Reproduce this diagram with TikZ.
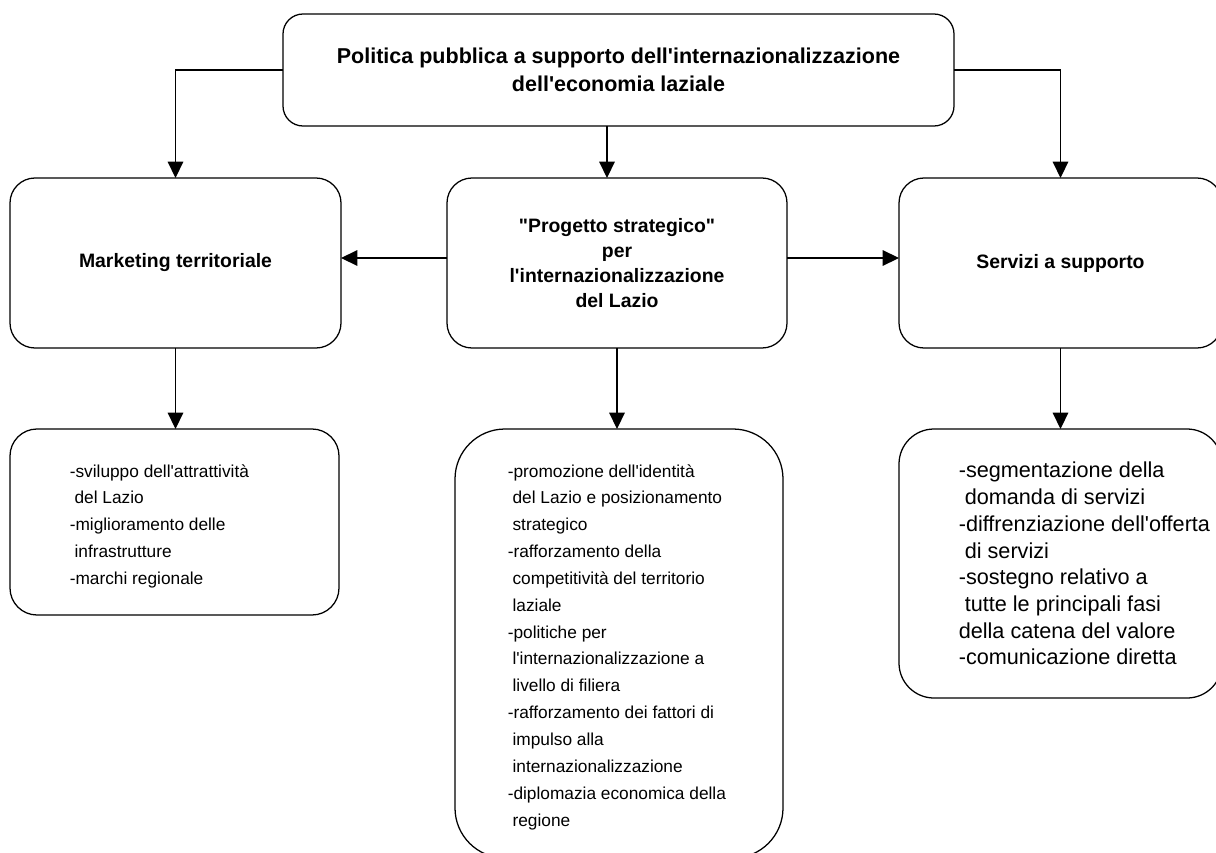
\documentclass[tikz,border=0pt]{standalone}
\usepackage{fontspec}
\setmainfont{Liberation Sans}[Ligatures=TeXOff]
\usetikzlibrary{arrows.meta}
\usetikzlibrary{positioning}
\newcommand{\indsp}{\hspace*{0.278em}}

\begin{document}
\begin{tikzpicture}[
  box/.style={draw,line width=0.9pt,outer sep=0pt,inner sep=0pt,align=center,font=\bfseries\fontsize{13.8}{17.8}\selectfont},
  listtext/.style={anchor=north west,inner sep=0pt,align=left},
  arr/.style={line width=0.9pt,-{Triangle[length=0.41cm,width=0.39cm]}}]
\useasboundingbox (0,0) rectangle (30.4,-21.3);
\clip (0,0) rectangle (30.4,-21.3);

\node[box,rounded corners=0.5cm,minimum width=16.775cm,minimum height=2.8cm,font=\bfseries\fontsize{15.3}{19.5}\selectfont] (top) at (15.4625,-1.75) {Politica pubblica a supporto dell'internazionalizzazione\\dell'economia laziale};

\node[box,rounded corners=0.625cm,minimum width=8.275cm,minimum height=4.25cm] (mkt) at (4.3875,-6.575) {Marketing territoriale};
\node[box,rounded corners=0.625cm,minimum width=8.5cm,minimum height=4.25cm] (prog) at (15.425,-6.575) {"Progetto strategico"\\per\\l'internazionalizzazione\\del Lazio};
\node[box,rounded corners=0.625cm,minimum width=8.075cm,minimum height=4.25cm] (serv) at (26.5125,-6.575) {Servizi a supporto};

\node[box,rounded corners=0.675cm,minimum width=8.225cm,minimum height=4.65cm] (bl) at (4.3625,-13.05) {};
\node[box,rounded corners=1.25cm,minimum width=8.2cm,minimum height=10.725cm] (bm) at (15.475,-16.0875) {};
\node[box,rounded corners=0.875cm,minimum width=8.075cm,minimum height=6.725cm] (br) at (26.5125,-14.0875) {};

\node[listtext,font=\fontsize{12.3}{19.1}\selectfont] (bltext) at (1.7375,-11.6) {-sviluppo dell'attrattività\\\indsp del Lazio\\-miglioramento delle\\\indsp infrastrutture\\-marchi regionale};
\node[listtext,font=\fontsize{12.3}{19.1}\selectfont] (bmtext) at (12.6875,-11.6) {-promozione dell'identità\\\indsp del Lazio e posizionamento\\\indsp strategico\\-rafforzamento della\\\indsp competitività del territorio\\\indsp laziale\\-politiche per\\\indsp l'internazionalizzazione a\\\indsp livello di filiera\\-rafforzamento dei fattori di\\\indsp impulso alla\\\indsp internazionalizzazione\\-diplomazia economica della\\\indsp regione};
\node[listtext,font=\fontsize{15.4}{19}\selectfont] (brtext) at (23.9625,-11.55) {-segmentazione della\\\indsp domanda di servizi\\-diffrenziazione dell'offerta\\\indsp di servizi\\-sostegno relativo a\\\indsp tutte le principali fasi\\della catena del valore\\-comunicazione diretta};

\draw[arr] (top.west) -| (mkt.north);
\draw[arr] (top.east) -| (serv.north);
\draw[arr] ([xshift=-0.25cm]prog.north |- top.south) -- ([xshift=-0.25cm]prog.north);
\draw[arr] ([yshift=0.125cm]prog.west) -- ([yshift=0.125cm]mkt.east);
\draw[arr] ([yshift=0.125cm]prog.east) -- ([yshift=0.125cm]serv.west);
\draw[arr] (mkt.south) -- (mkt.south |- bl.north);
\draw[arr] (prog.south) -- (prog.south |- bm.north);
\draw[arr] (serv.south) -- (br.north);

\end{tikzpicture}
\end{document}
